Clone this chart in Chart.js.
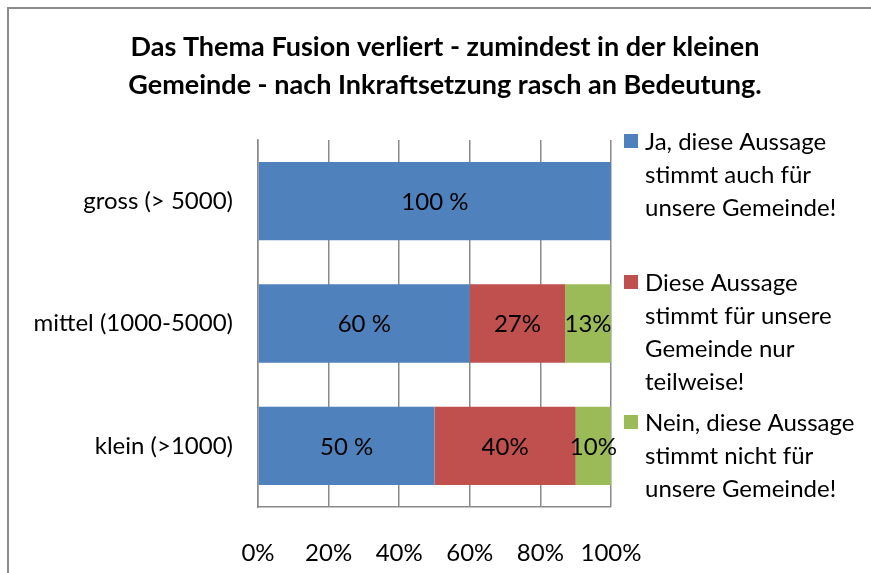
<!DOCTYPE html>
<html>
<head>
<meta charset="utf-8">
<script src="https://cdn.jsdelivr.net/npm/chart.js@4"></script>
<style>
    html, body { margin: 0; padding: 0; background: #fff; }
    #wrap { position: relative; width: 871px; height: 573px; overflow: hidden; }
    #frame {
        position: absolute; left: 7px; top: 7px; right: -5px; bottom: -5px;
        border-left: 2px solid #8c8c8c; border-top: 2px solid #8c8c8c;
        pointer-events: none;
    }
</style>
</head>
<body>
<div id="wrap">
    <canvas id="fusionChart" width="871" height="573"></canvas>
    <div id="frame"></div>
</div>
<script>
// Data
const titleLines = [
    "Das Thema Fusion verliert - zumindest in der kleinen",
    "Gemeinde - nach Inkraftsetzung rasch an Bedeutung."
];
const categories = ["gross (> 5000)", "mittel (1000-5000)", "klein (>1000)"];
const jaValues = [100, 60, 50];
const teilweiseValues = [0, 27, 40];
const neinValues = [0, 13, 10];
const seriesNames = [
    ["Ja, diese Aussage", "stimmt auch für", "unsere Gemeinde!"],
    ["Diese Aussage", "stimmt für unsere", "Gemeinde nur", "teilweise!"],
    ["Nein, diese Aussage", "stimmt nicht für", "unsere Gemeinde!"]
];
const xTickValues = [0, 20, 40, 60, 80, 100];

const FONT = "Lato, 'Open Sans', sans-serif";
const colors = ["#4F81BD", "#C0504D", "#9BBB59"];

// value labels inside the bars
const barLabels = {
    id: "barLabels",
    afterDatasetsDraw(chart) {
        const ctx = chart.ctx;
        ctx.save();
        ctx.font = "24px " + FONT;
        ctx.fillStyle = "#000";
        ctx.textAlign = "center";
        ctx.textBaseline = "middle";
        chart.data.datasets.forEach((ds, i) => {
            chart.getDatasetMeta(i).data.forEach((bar, j) => {
                const v = ds.data[j];
                if (!v) return;
                const p = bar.getCenterPoint();
                ctx.fillText(i === 0 ? v + " %" : v + "%", p.x, p.y + 1);
            });
        });
        ctx.restore();
    }
};

// title + legend on the right (multi-line entries like Excel)
const titleAndLegend = {
    id: "titleAndLegend",
    afterDraw(chart) {
        const ctx = chart.ctx;
        ctx.save();
        ctx.fillStyle = "#000";
        ctx.textAlign = "center";
        ctx.textBaseline = "middle";
        ctx.font = "bold 27px " + FONT;
        titleLines.forEach((t, i) => ctx.fillText(t, 445, 47 + i * 38));

        const itemTops = [142, 283, 423];
        ctx.textAlign = "left";
        ctx.font = "24px " + FONT;
        chart.data.datasets.forEach((ds, i) => {
            const y0 = itemTops[i];
            ctx.fillStyle = ds.backgroundColor;
            ctx.fillRect(624, y0 - 8, 14, 14);
            ctx.fillStyle = "#000";
            ds.label.forEach((line, k) => ctx.fillText(line, 645, y0 + k * 33));
        });
        ctx.restore();
    }
};

const ctx = document.getElementById("fusionChart").getContext("2d");
new Chart(ctx, {
    type: "bar",
    data: {
        labels: categories,
        datasets: [
            { label: seriesNames[0], data: jaValues, backgroundColor: colors[0] },
            { label: seriesNames[1], data: teilweiseValues, backgroundColor: colors[1] },
            { label: seriesNames[2], data: neinValues, backgroundColor: colors[2] }
        ]
    },
    options: {
        responsive: false,
        animation: false,
        indexAxis: "y",
        barPercentage: 0.64,
        categoryPercentage: 1,
        layout: {
            padding: { top: 140, right: 260, left: 0, bottom: 0 }
        },
        plugins: {
            legend: { display: false },
            title: { display: false },
            tooltip: { enabled: false }
        },
        scales: {
            x: {
                stacked: true,
                min: 0,
                max: 100,
                afterBuildTicks: (scale) => {
                    scale.ticks = xTickValues.map((v) => ({ value: v }));
                },
                afterFit: (scale) => { scale.height = 66; },
                grid: { color: "#8a8a8a", lineWidth: 1.5, drawTicks: false },
                border: { color: "#8a8a8a", width: 1.5 },
                ticks: {
                    padding: 32,
                    color: "#000",
                    font: { family: FONT, size: 24 },
                    callback: (v) => v + "%"
                }
            },
            y: {
                stacked: true,
                afterFit: (scale) => { scale.width = 258; },
                grid: { display: false, drawTicks: false },
                border: { color: "#8a8a8a", width: 1.5 },
                ticks: {
                    padding: 25,
                    color: "#000",
                    font: { family: FONT, size: 24 }
                }
            }
        }
    },
    plugins: [barLabels, titleAndLegend]
});
</script>
</body>
</html>
